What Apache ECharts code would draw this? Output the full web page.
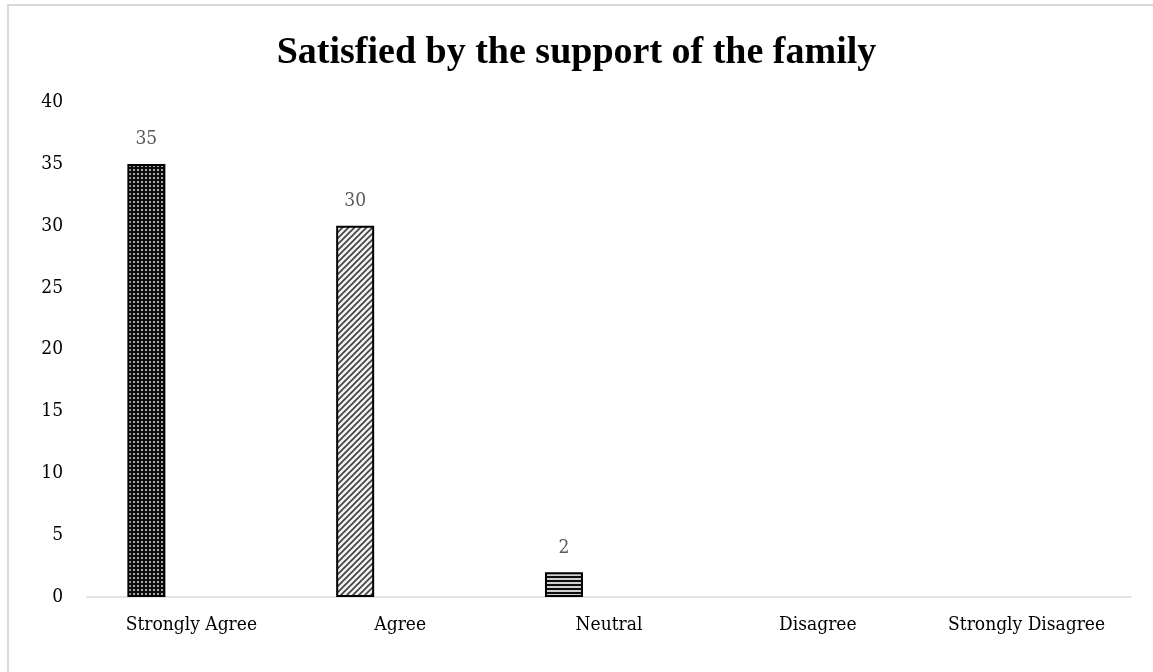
<!DOCTYPE html>
<html>
<head>
<meta charset="utf-8">
<script src="https://cdn.jsdelivr.net/npm/echarts@6/dist/echarts.min.js"></script>
<style>html,body{margin:0;padding:0;background:#fff;}#c{width:1153px;height:672px;}</style>
</head>
<body>
<div id="c"></div>
<script>
const titleText = 'Satisfied by the support of the family';
const categories = ['Strongly Agree', 'Agree', 'Neutral', 'Disagree', 'Strongly Disagree'];
const values = [35, 30, 2, '-', '-'];
const yTicks = [0, 40, 5];

const bodyFont = 'DejaVu Serif Condensed, DejaVu Serif, serif';

function makePattern(kind) {
  const c = document.createElement('canvas');
  const ctx = c.getContext('2d');
  if (kind === 'dots') {
    c.width = 4; c.height = 4;
    ctx.fillStyle = '#0d0d0d'; ctx.fillRect(0, 0, 4, 4);
    ctx.fillStyle = '#a8a8a8'; ctx.fillRect(1, 1, 2, 2);
  } else if (kind === 'diag') {
    c.width = 6; c.height = 6;
    ctx.fillStyle = '#f2f2f2'; ctx.fillRect(0, 0, 6, 6);
    ctx.strokeStyle = '#404040'; ctx.lineWidth = 1.6;
    ctx.beginPath();
    ctx.moveTo(-1, 7); ctx.lineTo(7, -1);
    ctx.moveTo(-4, 4); ctx.lineTo(4, -4);
    ctx.moveTo(2, 10); ctx.lineTo(10, 2);
    ctx.stroke();
  } else {
    c.width = 4; c.height = 4;
    ctx.fillStyle = '#d0d0d0'; ctx.fillRect(0, 0, 4, 4);
    ctx.fillStyle = '#0d0d0d'; ctx.fillRect(0, 0, 4, 2);
  }
  return { image: c, repeat: 'repeat' };
}
const patternKinds = ['dots', 'diag', 'hstripe', 'dots', 'dots'];

const chart = echarts.init(document.getElementById('c'));
chart.setOption({
  animation: false,
  backgroundColor: '#fff',
  title: {
    text: titleText, left: 'center', top: 29,
    textStyle: { fontFamily: 'Liberation Serif', fontWeight: 'bold', fontSize: 38, color: '#000' }
  },
  graphic: [{
    type: 'rect', shape: { x: 8, y: 5, width: 1160, height: 690 },
    style: { fill: 'none', stroke: '#d9d9d9', lineWidth: 2 }, silent: true
  }],
  grid: { left: 87, right: 22, top: 102, bottom: 75 },
  xAxis: {
    type: 'category', data: categories,
    axisLine: { lineStyle: { color: '#d9d9d9', width: 1.5 } },
    axisTick: { show: false },
    axisLabel: { fontFamily: bodyFont, fontSize: 19, color: '#000', margin: 19, interval: 0 }
  },
  yAxis: {
    type: 'value', min: yTicks[0], max: yTicks[1], interval: yTicks[2],
    axisLine: { show: false }, axisTick: { show: false },
    splitLine: { show: false },
    axisLabel: { fontFamily: bodyFont, fontSize: 19, color: '#000', margin: 24 }
  },
  series: [{
    type: 'bar', barWidth: 38, barGap: '137%',
    data: values.map((v, i) => ({
      value: v,
      itemStyle: { color: makePattern(patternKinds[i]), borderColor: '#000', borderWidth: 2 }
    })),
    label: { show: true, position: 'top', distance: 15, fontFamily: bodyFont, fontSize: 19, color: '#595959' }
  }, {
    type: 'bar', barWidth: 38, data: categories.map(() => '-')
  }]
});
</script>
</body>
</html>
